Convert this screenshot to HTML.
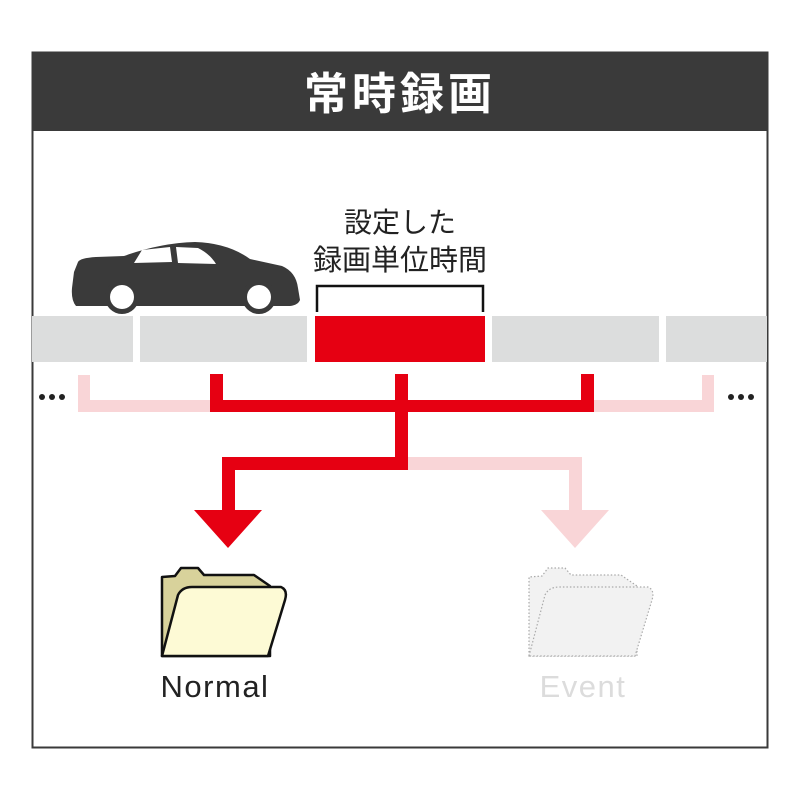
<!DOCTYPE html>
<html><head><meta charset="utf-8"><style>
html,body{margin:0;padding:0;background:#fff;}
svg{display:block;}
</style></head><body>
<svg width="800" height="800" viewBox="0 0 800 800" xmlns="http://www.w3.org/2000/svg">
<rect x="0" y="0" width="800" height="800" fill="#fff"/>
<rect x="32.5" y="52.5" width="735" height="695" fill="#fff" stroke="#3a3a3a" stroke-width="2"/>
<rect x="32" y="52" width="736" height="79" fill="#3a3a3a"/>
<text x="400" y="109" text-anchor="middle" fill="#fff" font-family="'Noto Sans CJK JP',sans-serif" font-weight="bold" font-size="44" letter-spacing="4">常時録画</text>
<text x="400" y="232" text-anchor="middle" fill="#222" font-family="'Noto Sans CJK JP',sans-serif" font-size="28">設定した</text>
<text x="400" y="270" text-anchor="middle" fill="#222" font-family="'Noto Sans CJK JP',sans-serif" font-size="29">録画単位時間</text>
<path d="M317 312 V286 H483 V312" fill="none" stroke="#111" stroke-width="2.5"/>
<!-- car -->
<path d="M78 262 Q80 258 96 257 L124 256 Q160 243 195 242 Q228 243 250 259 L282 266 Q296 272 298 288 L300 300 Q298 305 290 306 L76 306 Q71 300 72 288 L74 272 Z" fill="#3a3a3a"/>
<path d="M134 263 L142 250 L170 247 L172 262 Z M176 247 L198 248 Q210 254 216 264 L178 263 Z" fill="#fff"/>
<circle cx="122" cy="297" r="17" fill="#3a3a3a"/><circle cx="122" cy="297" r="12" fill="#fff"/>
<circle cx="259" cy="297" r="17" fill="#3a3a3a"/><circle cx="259" cy="297" r="12" fill="#fff"/>
<!-- bar -->
<g fill="#dcdddd">
<rect x="32" y="316" width="101" height="46"/>
<rect x="140" y="316" width="167" height="46"/>
<rect x="492" y="316" width="167" height="46"/>
<rect x="666" y="316" width="101" height="46"/>
</g>
<rect x="315" y="316" width="170" height="46" fill="#e60012"/>
<!-- pink -->
<g fill="#f9d5d7">
<rect x="78" y="375" width="12" height="37"/>
<rect x="78" y="400" width="135" height="12"/>
<rect x="702" y="375" width="12" height="37"/>
<rect x="590" y="400" width="124" height="12"/>
<rect x="405" y="457" width="177" height="13"/>
<rect x="569" y="457" width="13" height="55"/>
<polygon points="541,510 609,510 575,548"/>
</g>
<!-- red -->
<g fill="#e60012">
<rect x="210" y="374" width="13" height="38"/>
<rect x="395" y="374" width="13" height="96"/>
<rect x="581" y="374" width="13" height="38"/>
<rect x="210" y="400" width="384" height="12"/>
<rect x="222" y="457" width="186" height="13"/>
<rect x="222" y="457" width="13" height="55"/>
<polygon points="194,510 262,510 228,548"/>
</g>
<g fill="#222">
<circle cx="42" cy="397" r="3"/><circle cx="52" cy="397" r="3"/><circle cx="62" cy="397" r="3"/>
<circle cx="731" cy="397" r="3"/><circle cx="741" cy="397" r="3"/><circle cx="751" cy="397" r="3"/>
</g>
<!-- normal folder -->
<path d="M162 656 V577 L175 576 L181 568 L198 568 L204 575 L254 575 L270 586 L270 656 Z" fill="#d8d29b" stroke="#111" stroke-width="2.5" stroke-linejoin="round"/>
<path d="M162 656 L178 595 Q182 587 192 587 L281 587 Q288 590 285 600 L268 656 Z" fill="#fdfad5" stroke="#111" stroke-width="2.5" stroke-linejoin="round"/>
<text x="215" y="697" text-anchor="middle" fill="#222" font-family="'Liberation Sans',sans-serif" font-size="31" letter-spacing="1.5">Normal</text>
<!-- event folder -->
<path d="M529 656 V577 L542 576 L548 568 L565 568 L571 575 L621 575 L637 586 L637 656 Z" fill="#f2f2f2" stroke="#aaa" stroke-width="1.2" stroke-dasharray="1.5,2"/>
<path d="M529 656 L545 595 Q549 587 559 587 L648 587 Q655 590 652 600 L635 656 Z" fill="#f2f2f2" stroke="#aaa" stroke-width="1.2" stroke-dasharray="1.5,2"/>
<text x="583" y="697" text-anchor="middle" fill="#dcdcdc" font-family="'Liberation Sans',sans-serif" font-size="31" letter-spacing="1.5">Event</text>
</svg>
</body></html>
